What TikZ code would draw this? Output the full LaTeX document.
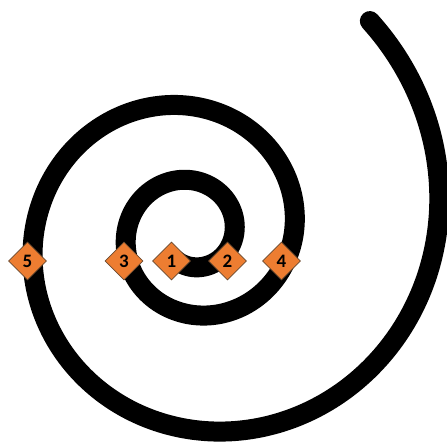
\documentclass[tikz,border=0pt]{standalone}
\usepackage{fontspec}
\newfontfamily\lblfont{Carlito}
\usetikzlibrary{shapes.geometric}
\definecolor{markorange}{HTML}{ED7D31}
\definecolor{markedge}{HTML}{6A4A30}
\tikzset{
  spiralline/.style={line width=20pt, line cap=round, draw=black},
  marker/.style={diamond, aspect=1, fill=markorange, draw=markedge, line width=0.7pt,
    minimum width=38pt, minimum height=38pt, inner sep=0pt,
    font=\lblfont\bfseries\fontsize{19}{19}\selectfont, text=black}
}
\begin{document}
\begin{tikzpicture}[x=1pt,y=-1pt]
\useasboundingbox (0,0) rectangle (447,446);
\draw[spiralline] plot[domain=-122:770, samples=700, variable=\t]
  ({192 + 34*exp(0.2194*(\t+90)/90)*cos(\t)}, {233 - 34*exp(0.2194*(\t+90)/90)*sin(\t)});
\node[marker] (d5) at (27.5,261) {5};
\node[marker] (d3) at (124,261) {3};
\node[marker] (d1) at (171.5,261) {1};
\node[marker] (d2) at (227.5,261) {2};
\node[marker] (d4) at (281.5,261) {4};
\end{tikzpicture}
\end{document}
